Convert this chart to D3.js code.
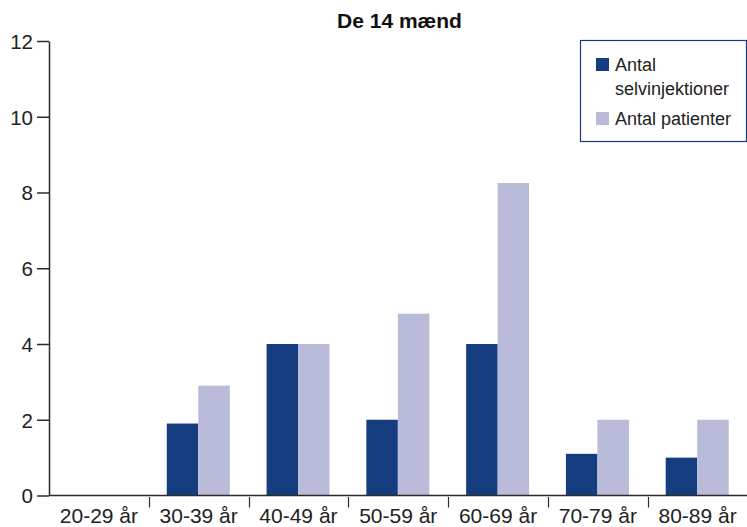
<!DOCTYPE html>
<html>
<head>
<meta charset="utf-8">
<script src="https://cdn.jsdelivr.net/npm/d3@7"></script>
<style>
  html, body { margin: 0; padding: 0; background: #fff; }
  svg { display: block; font-family: "Liberation Sans", Arial, Helvetica, sans-serif; }
</style>
</head>
<body>
<svg id="chart" width="747" height="527"></svg>
<script>
// Aldersgrupper og værdier
const categories = ["20-29 år", "30-39 år", "40-49 år", "50-59 år", "60-69 år", "70-79 år", "80-89 år"];
const injections = [0, 1.9, 4, 2, 4, 1.1, 1.0];   // Antal selvinjektioner
const patients   = [0, 2.9, 4, 4.8, 8.25, 2, 2];   // Antal patienter
const seriesNames = ["Antal selvinjektioner", "Antal patienter"];
const yTicks = [0, 2, 4, 6, 8, 10, 12];
const title = "De 14 mænd";

const colors = ["#143c7f", "#b9bbd8"];
const axisColor = "#2b2b2b";
const textColor = "#222";

const svg = d3.select("#chart");
const plotLeft = 49, plotRight = 747.5, plotTop = 41, plotBottom = 495.5;

const x = d3.scaleBand().domain(categories).range([plotLeft, plotRight]).paddingInner(0).paddingOuter(0);
const y = d3.scaleLinear().domain([0, 12]).range([plotBottom, plotTop]);
const xInner = d3.scaleBand().domain([0, 1]).range([18, 81]).padding(0);

const rows = categories.map((c, i) => ({ cat: c, values: [injections[i], patients[i]] }));

// Søjler
const groups = svg.append("g").selectAll("g").data(rows).join("g")
  .attr("transform", d => `translate(${x(d.cat)},0)`);
groups.selectAll("rect")
  .data(d => d.values.map((v, k) => ({ v, k })))
  .join("rect")
  .attr("x", d => xInner(d.k))
  .attr("width", xInner.bandwidth())
  .attr("y", d => y(d.v))
  .attr("height", d => y(0) - y(d.v))
  .attr("fill", d => colors[d.k]);

// Y-akse
const yAxis = svg.append("g")
  .attr("transform", `translate(${plotLeft},0)`)
  .call(d3.axisLeft(y).tickValues(yTicks).tickSize(12).tickSizeOuter(0).tickPadding(4));
yAxis.select(".domain").attr("stroke", axisColor).attr("stroke-width", 1.5);
yAxis.selectAll(".tick line").attr("stroke", axisColor).attr("stroke-width", 1.5);
yAxis.selectAll(".tick text")
  .attr("fill", textColor)
  .style("font-size", "20.5px")
  .attr("dy", "0.36em");

// X-akse
const xAxisG = svg.append("g");
xAxisG.append("line")
  .attr("x1", plotLeft).attr("x2", 747)
  .attr("y1", plotBottom).attr("y2", plotBottom)
  .attr("stroke", axisColor).attr("stroke-width", 1.5);
xAxisG.selectAll("line.sep")
  .data(categories.slice(1))
  .join("line")
  .attr("class", "sep")
  .attr("x1", d => Math.round(x(d)) + 0.5).attr("x2", d => Math.round(x(d)) + 0.5)
  .attr("y1", plotBottom + 1.5).attr("y2", plotBottom + 12)
  .attr("stroke", axisColor).attr("stroke-width", 1.2);
xAxisG.selectAll("text")
  .data(categories)
  .join("text")
  .attr("x", d => x(d) + x.bandwidth() / 2)
  .attr("y", 523)
  .attr("text-anchor", "middle")
  .attr("fill", textColor)
  .style("font-size", "21px")
  .text(d => d);

// Titel
svg.append("text")
  .attr("x", 399.5)
  .attr("y", 28)
  .attr("text-anchor", "middle")
  .attr("fill", "#111")
  .style("font-size", "21px")
  .style("font-weight", "bold")
  .text(title);

// Forklaring
const legend = svg.append("g");
legend.append("rect")
  .attr("x", 580.5).attr("y", 40.5)
  .attr("width", 166).attr("height", 101)
  .attr("fill", "#fff")
  .attr("stroke", colors[0]).attr("stroke-width", 1.2);
const legendItems = [
  { lines: ["Antal", "selvinjektioner"], y: 58 },
  { lines: ["Antal patienter"], y: 112 }
];
legendItems.forEach((item, k) => {
  legend.append("rect")
    .attr("x", 596).attr("y", item.y)
    .attr("width", 13).attr("height", 13)
    .attr("fill", colors[k]);
  item.lines.forEach((ln, j) => {
    legend.append("text")
      .attr("x", 615)
      .attr("y", item.y + 13 + j * 24)
      .attr("fill", textColor)
      .style("font-size", "18px")
      .text(ln);
  });
});
</script>
</body>
</html>
